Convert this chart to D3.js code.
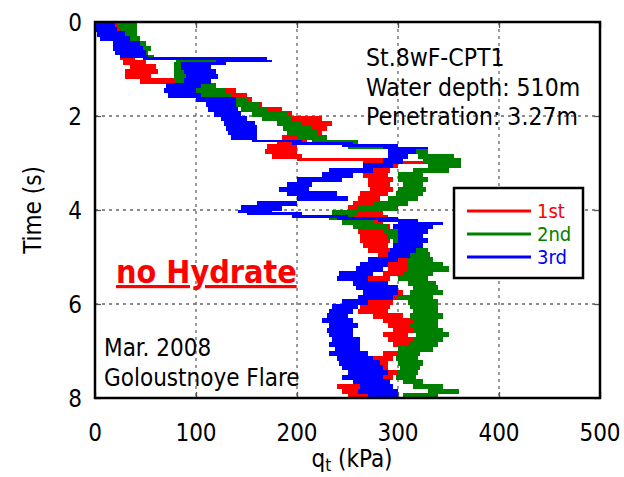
<!DOCTYPE html>
<html><head><meta charset="utf-8">
<script src="https://cdn.jsdelivr.net/npm/d3@7/dist/d3.min.js"></script>
<style>
html,body{margin:0;padding:0;background:#fff;}
svg{display:block;}
text{font-family:"DejaVu Sans Condensed","DejaVu Sans",sans-serif;font-stretch:condensed;}
</style></head>
<body><svg id="c" width="624" height="477"></svg>
<script>
// ---- data: [time (s), qt low (kPa), qt high (kPa)] ----
const first = [
[0.0,15,30],[0.1,18,30],[0.2,20,32],[0.3,22,30],[0.4,20,30],[0.5,20,30],[0.6,22,35],[0.7,25,40],[0.8,28,50],[0.9,35,60],
[1.0,30,62],[1.1,30,55],[1.2,45,80],[1.3,75,110],[1.4,110,140],[1.5,120,150],[1.6,120,155],[1.7,125,165],[1.8,155,185],[1.9,165,195],
[2.0,180,225],[2.1,190,235],[2.2,200,230],[2.3,195,225],[2.4,185,215],[2.5,180,210],[2.6,170,200],[2.7,168,200],[2.8,175,205],[2.9,200,300],[2.95,265,330],
[3.0,265,300],[3.1,262,292],[3.2,265,290],[3.3,270,295],[3.4,270,292],[3.5,272,295],[3.6,262,290],[3.7,260,282],[3.8,255,285],[3.9,250,283],
[4.0,255,285],[4.1,255,290],[4.2,258,285],[4.3,262,292],[4.4,260,290],[4.5,262,292],[4.6,262,292],[4.7,265,290],[4.8,270,295],[4.9,280,300],
[5.0,285,310],[5.1,285,315],[5.2,290,318],[5.3,285,312],[5.4,262,292],[5.5,260,290],[5.6,262,295],[5.7,280,305],[5.8,265,300],[5.9,260,295],
[6.0,262,292],[6.1,260,290],[6.2,275,305],[6.3,285,320],[6.4,290,335],[6.5,295,320],[6.6,285,310],[6.7,290,325],[6.8,295,335],[6.9,300,330],
[7.0,285,320],[7.1,255,295],[7.2,245,290],[7.3,255,290],[7.4,262,300],[7.5,270,295],[7.6,255,285],[7.7,240,275],[7.8,245,290],[7.9,250,285]
];
const second = [
[0.0,22,42],[0.1,25,42],[0.2,28,42],[0.3,30,45],[0.4,40,50],[0.5,42,55],[0.6,40,52],[0.7,45,58],[0.75,55,105],[0.8,80,122],[0.85,78,100],[0.9,78,100],
[1.0,78,100],[1.1,78,98],[1.2,80,100],[1.3,95,120],[1.4,100,130],[1.5,105,135],[1.6,120,150],[1.7,133,163],[1.8,145,170],[1.9,155,190],
[2.0,165,195],[2.1,180,205],[2.2,186,215],[2.3,190,220],[2.4,200,230],[2.5,215,260],[2.6,250,300],[2.7,290,330],[2.8,320,355],[2.9,325,362],
[3.0,330,362],[3.1,315,350],[3.2,300,325],[3.3,300,330],[3.4,305,325],[3.5,300,328],[3.6,298,325],[3.7,290,320],[3.8,275,310],[3.9,260,300],
[4.0,235,260],[4.1,232,255],[4.2,245,275],[4.3,255,290],[4.4,285,320],[4.5,290,325],[4.6,295,328],[4.7,300,325],[4.8,305,330],[4.9,312,332],
[5.0,310,335],[5.1,310,345],[5.2,310,350],[5.3,305,335],[5.4,300,330],[5.5,310,338],[5.6,315,340],[5.7,312,345],[5.8,300,335],[5.9,310,340],
[6.0,312,340],[6.1,315,340],[6.2,312,345],[6.3,315,340],[6.4,312,340],[6.5,315,345],[6.6,318,350],[6.7,315,345],[6.8,312,340],[6.9,300,335],
[7.0,300,322],[7.1,298,320],[7.2,300,325],[7.3,302,322],[7.4,300,320],[7.5,298,318],[7.6,305,325],[7.7,315,345],[7.8,330,360],[7.9,305,340]
];
const third = [
[0.0,0,20],[0.1,0,22],[0.2,2,30],[0.3,5,35],[0.4,18,45],[0.5,18,48],[0.6,20,50],[0.7,25,52],[0.75,48,170],[0.8,120,175],[0.85,85,130],[0.9,85,115],
[1.0,88,120],[1.1,90,122],[1.2,88,115],[1.3,70,105],[1.4,68,100],[1.5,72,105],[1.6,100,140],[1.7,110,140],[1.8,112,142],[1.9,118,145],
[2.0,125,150],[2.1,128,158],[2.2,130,160],[2.3,132,160],[2.4,135,160],[2.5,155,205],[2.55,195,255],[2.6,245,300],[2.65,285,330],[2.7,290,318],[2.8,290,310],[2.9,285,305],
[3.0,265,295],[3.1,232,275],[3.2,225,255],[3.3,200,245],[3.4,190,215],[3.5,182,212],[3.6,190,240],[3.7,200,250],[3.8,160,200],[3.9,145,185],
[4.0,142,175],[4.05,150,205],[4.1,195,250],[4.15,240,300],[4.2,280,320],[4.25,300,345],[4.3,295,335],[4.4,300,330],[4.5,300,325],[4.6,300,330],[4.7,295,325],[4.8,292,318],[4.9,290,312],
[5.0,270,300],[5.1,262,290],[5.2,258,285],[5.3,242,275],[5.4,240,270],[5.5,255,290],[5.6,258,300],[5.7,265,300],[5.8,260,295],[5.9,245,270],
[6.0,235,260],[6.1,232,255],[6.2,230,250],[6.3,225,255],[6.4,232,260],[6.5,230,255],[6.6,232,255],[6.7,235,262],[6.8,232,262],[6.9,238,262],
[7.0,232,270],[7.1,240,275],[7.2,242,282],[7.3,245,285],[7.4,250,290],[7.5,245,285],[7.6,255,292],[7.7,262,295],[7.8,260,300],[7.9,270,300]
];
const seriesNames = ["1st","2nd","3rd"];
const seriesColors = ["#ff0000","#008000","#0000ff"];
const xTicks = [0,100,200,300,400,500];
const yTicks = [0,2,4,6,8];
const infoLines = ["St.8wF-CPT1","Water depth: 510m","Penetration: 3.27m"];
const noteLines = ["Mar. 2008","Goloustnoye Flare"];

// ---- layout ----
const L=95, R=600, T=22, B=398;
const x = d3.scaleLinear().domain([0,500]).range([L,R]);
const y = d3.scaleLinear().domain([0,8]).range([T,B]);
const svg = d3.select("#c");

svg.append("defs").append("clipPath").attr("id","clip")
  .append("rect").attr("x",L).attr("y",T).attr("width",R-L).attr("height",B-T);

// grid
const grid = svg.append("g").attr("stroke","#666").attr("stroke-width",1.3).attr("stroke-dasharray","3,4");
grid.selectAll(".gx").data(xTicks.filter(d=>d>0&&d<500)).join("line")
  .attr("x1",d=>x(d)).attr("x2",d=>x(d)).attr("y1",T).attr("y2",B);
grid.selectAll(".gy").data(yTicks.filter(d=>d>0&&d<8)).join("line")
  .attr("y1",d=>y(d)).attr("y2",d=>y(d)).attr("x1",L).attr("x2",R);

// data blocks
const dataG = svg.append("g").attr("clip-path","url(#clip)");
[first, second, third].forEach((s,i)=>{
  dataG.append("g").attr("fill",seriesColors[i]).attr("shape-rendering","crispEdges")
    .selectAll("rect").data(s).join("rect")
    .attr("x",d=>x(d[1]))
    .attr("width",d=>x(d[2])-x(d[1]))
    .attr("y",d=>y(d[0]))
    .attr("height",(d,j)=>y(j<s.length-1?s[j+1][0]:8)-y(d[0])+0.5);
});

// ticks (inward) via d3 axes
const axB = d3.axisBottom(x).tickValues(xTicks).tickSize(-6).tickFormat("");
const axT = d3.axisTop(x).tickValues(xTicks).tickSize(-6).tickFormat("");
const axL = d3.axisLeft(y).tickValues(yTicks).tickSize(-6).tickFormat("");
const axR = d3.axisRight(y).tickValues(yTicks).tickSize(-6).tickFormat("");
[[axB,`translate(0,${B})`],[axT,`translate(0,${T})`],[axL,`translate(${L},0)`],[axR,`translate(${R},0)`]].forEach(([a,tr])=>{
  const g = svg.append("g").attr("transform",tr).call(a);
  g.select(".domain").remove();
  g.selectAll("line").attr("stroke","#555").attr("stroke-width",1.3);
});

// frame
svg.append("rect").attr("x",L).attr("y",T).attr("width",R-L).attr("height",B-T)
  .attr("fill","none").attr("stroke","#000").attr("stroke-width",2.5);

// tick labels
svg.append("g").selectAll("text").data(xTicks).join("text")
  .attr("x",d=>x(d)).attr("y",441).attr("text-anchor","middle")
  .attr("font-size",24).text(d=>d);
svg.append("g").selectAll("text").data(yTicks).join("text")
  .attr("x",82).attr("y",d=>y(d)+8.5).attr("text-anchor","end")
  .attr("font-size",24).text(d=>d);

// axis titles
const xt = svg.append("text").attr("x",352).attr("y",467).attr("text-anchor","middle").attr("font-size",24);
xt.append("tspan").text("q");
xt.append("tspan").attr("font-size",17).attr("dy",4).text("t");
xt.append("tspan").attr("dy",-4).text(" (kPa)");
svg.append("text").attr("transform","translate(41,210) rotate(-90)")
  .attr("text-anchor","middle").attr("font-size",24).text("Time (s)");

// info text
svg.append("g").selectAll("text").data(infoLines).join("text")
  .attr("x",366).attr("y",(d,i)=>66+i*29.5).attr("font-size",24.5).text(d=>d);
svg.append("g").selectAll("text").data(noteLines).join("text")
  .attr("x",104).attr("y",(d,i)=>356+i*30).attr("font-size",24).text(d=>d);

// no Hydrate
svg.append("text").attr("x",116).attr("y",283).attr("font-size",32).attr("font-weight","bold")
  .attr("fill","#ff0000").attr("text-decoration","underline").text("no Hydrate");

// legend
const lg = svg.append("g");
lg.append("rect").attr("x",454).attr("y",188).attr("width",129).attr("height",90)
  .attr("fill","#fff").attr("stroke","#000").attr("stroke-width",2.5);
seriesNames.forEach((n,i)=>{
  const yy = 211 + i*23;
  lg.append("line").attr("x1",467).attr("x2",531).attr("y1",yy).attr("y2",yy)
    .attr("stroke",seriesColors[i]).attr("stroke-width",3);
  lg.append("text").attr("x",537).attr("y",yy+7).attr("font-size",20)
    .attr("fill",seriesColors[i]).text(n);
});
</script></body></html>
